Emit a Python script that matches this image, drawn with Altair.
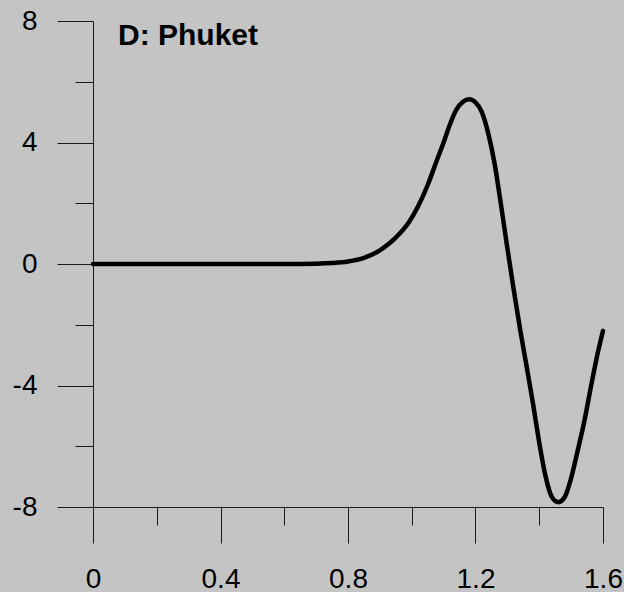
import altair as alt
import pandas as pd

# Time (x) and amplitude (y)
t = [0.0, 0.2, 0.4, 0.6, 0.7, 0.75, 0.8, 0.85, 0.9, 0.93, 0.96, 0.99, 1.02, 1.05,
     1.08, 1.10, 1.12, 1.14, 1.16, 1.18, 1.20, 1.22, 1.24, 1.26, 1.28, 1.30, 1.32,
     1.34, 1.36, 1.38, 1.40, 1.42, 1.44, 1.46, 1.48, 1.50, 1.52, 1.54, 1.56, 1.58, 1.60]
amp = [0.0, 0.0, 0.0, 0.0, 0.01, 0.03, 0.08, 0.2, 0.45, 0.68, 0.98, 1.36, 1.9, 2.6,
       3.45, 4.0, 4.6, 5.08, 5.33, 5.42, 5.32, 5.0, 4.3, 3.3, 1.95, 0.52, -0.85,
       -2.15, -3.35, -4.57, -5.88, -7.0, -7.68, -7.84, -7.67, -7.05, -6.17, -5.25, -4.16, -3.1, -2.2]

x_major = [0, 0.4, 0.8, 1.2, 1.6]
x_minor = [0.2, 0.6, 1.0, 1.4]
y_major = [-8, -4, 0, 4, 8]
y_minor = [-6, -2, 2, 6]
title_text = "D: Phuket"

df = pd.DataFrame({"t": t, "amp": amp})

FONT = "Liberation Sans"
AX = "#1a1a1a"

xs = alt.Scale(domain=[0, 1.6], nice=False, zero=False)
ys = alt.Scale(domain=[-8, 8], nice=False, zero=False)

common_axis = dict(domainColor=AX, domainWidth=1, tickColor=AX, tickWidth=1,
                   grid=False, title=None, labelFont=FONT, labelFontSize=28,
                   labelColor="black", labelExpr="'' + datum.value", labelFlush=False)

major = alt.Chart(df).mark_line(color="black", strokeWidth=4.5, interpolate="monotone",
                                strokeJoin="round", strokeCap="round").encode(
    x=alt.X("t:Q", scale=xs,
            axis=alt.Axis(values=x_major, tickSize=36, labelPadding=22, orient="bottom",
                          **common_axis)),
    y=alt.Y("amp:Q", scale=ys,
            axis=alt.Axis(values=y_major, tickSize=36, labelPadding=20, orient="left",
                          **common_axis)),
)

minor = alt.Chart(df).mark_line(opacity=0).encode(
    x=alt.X("t:Q", scale=xs,
            axis=alt.Axis(values=x_minor, tickSize=18, labels=False, domain=False,
                          orient="bottom", tickColor=AX, tickWidth=1, grid=False, title=None)),
    y=alt.Y("amp:Q", scale=ys,
            axis=alt.Axis(values=y_minor, tickSize=18, labels=False, domain=False,
                          orient="left", tickColor=AX, tickWidth=1, grid=False, title=None)),
)

chart = alt.layer(major, minor).resolve_axis(x="independent", y="independent").properties(
    width=510, height=486,
    padding={"left": 93, "top": 21, "right": 21, "bottom": 85},
    autosize=alt.AutoSizeParams(type="none"),
    background="#c4c4c4",
    title=alt.TitleParams(title_text, anchor="start", frame="group", dx=25, dy=26, offset=-42,
                          baseline="alphabetic", font=FONT, fontSize=30,
                          fontWeight="bold", color="black"),
).configure_view(stroke=None, fill="#c4c4c4")

chart.save("out.html", embed_options={"renderer": "svg", "actions": False})
